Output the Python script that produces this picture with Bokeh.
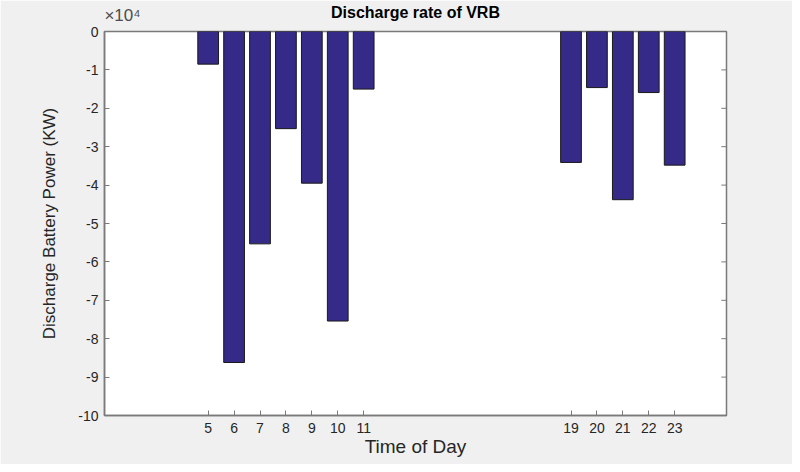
from bokeh.plotting import figure
from bokeh.models import Range1d, FixedTicker, LinearAxis
from bokeh.embed import file_html
from bokeh.resources import INLINE

hours = [5, 6, 7, 8, 9, 10, 11, 19, 20, 21, 22, 23]
discharge_kw = [-8500, -86200, -55300, -25300, -39500, -75400, -15000,
                -34100, -14600, -43800, -15900, -34800]
y_ticks = [-100000, -90000, -80000, -70000, -60000, -50000, -40000,
           -30000, -20000, -10000, 0]
y_tick_labels = ["-10", "-9", "-8", "-7", "-6", "-5", "-4", "-3", "-2", "-1", "0"]
exponent_label = "×10⁴"
title_text = "Discharge rate of VRB"

FONT = "Liberation Sans"
AX = "#7a7a7a"
TXT = "#262626"
X_MIN, X_MAX = 1, 25
FRAME_W = 622
EXP_OFFSET_PX = 18  # centre of the exponent label from the left edge of the box

p = figure(width=792, height=464, output_backend="svg", toolbar_location=None,
           x_range=Range1d(X_MIN, X_MAX), y_range=Range1d(-100000, 0),
           min_border_left=104, min_border_right=66, min_border_top=31,
           min_border_bottom=49)
p.border_fill_color = "#F0F0F0"
p.background_fill_color = "white"
p.outline_line_color = AX
p.outline_line_width = 1.5
p.grid.visible = False

p.vbar(x=hours, width=0.8, top=0, bottom=discharge_kw,
       fill_color="#352A87", line_color="#1a1a1a", line_width=1)

# inward ticks on the right edge of the box (MATLAB "box on")
tick_len = 0.2
p.segment(x0=[X_MAX] * len(y_ticks), x1=[X_MAX - tick_len] * len(y_ticks),
          y0=y_ticks, y1=y_ticks, line_color=AX, line_width=1)

for ax in (p.xaxis[0], p.yaxis[0]):
    ax.axis_line_color = AX
    ax.axis_line_width = 1.5
    ax.major_tick_line_color = AX
    ax.major_tick_in = 5
    ax.major_tick_out = 0
    ax.minor_tick_line_color = None
    ax.major_label_text_font = FONT
    ax.major_label_text_font_size = "14px"
    ax.major_label_text_color = TXT
    ax.axis_label_text_font = FONT
    ax.axis_label_text_font_style = "normal"
    ax.axis_label_text_color = TXT

p.xaxis.ticker = FixedTicker(ticks=hours)
p.xaxis.axis_label = "Time of Day"
p.xaxis.axis_label_text_font_size = "19px"
p.xaxis.major_label_standoff = 7
p.xaxis.axis_label_standoff = 0

p.yaxis.ticker = FixedTicker(ticks=y_ticks)
p.yaxis.major_label_overrides = {t: l for t, l in zip(y_ticks, y_tick_labels)}
p.yaxis.axis_label = "Discharge Battery Power (KW)"
p.yaxis.axis_label_text_font_size = "17px"
p.yaxis.major_label_standoff = 6
p.yaxis.axis_label_standoff = 16

# top axis carries the "x10^4" multiplier (as its only tick label) and the title
exp_x = X_MIN + EXP_OFFSET_PX * (X_MAX - X_MIN) / FRAME_W
top = LinearAxis(ticker=FixedTicker(ticks=[exp_x]),
                 major_label_overrides={exp_x: exponent_label},
                 axis_line_color=None, major_tick_line_color=None,
                 minor_tick_line_color=None,
                 major_label_text_font=FONT, major_label_text_font_size="17px",
                 major_label_text_color="#4d4d4d", major_label_standoff=1,
                 axis_label=title_text, axis_label_text_font=FONT,
                 axis_label_text_font_size="16px", axis_label_text_font_style="bold",
                 axis_label_text_color="black", axis_label_standoff=-18)
p.add_layout(top, "above")

open("out.html", "w").write(file_html(p, INLINE))
